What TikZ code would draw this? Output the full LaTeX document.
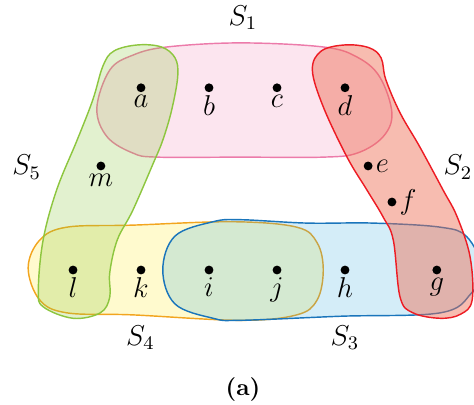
\documentclass[tikz,border=0pt]{standalone}
\usepackage{xcolor}
\usetikzlibrary{positioning}
\definecolor{pinkline}{HTML}{EC7BAA}
\definecolor{pinkfill}{HTML}{F27BAE}
\definecolor{redline}{HTML}{ED1C24}
\definecolor{redfill}{HTML}{EE6A50}
\definecolor{blueline}{HTML}{1A75BB}
\definecolor{bluefill}{HTML}{29A3DC}
\definecolor{yellowline}{HTML}{F2A51F}
\definecolor{yellowfill}{HTML}{FFEB3B}
\definecolor{greenline}{HTML}{8DC63F}
\definecolor{greenfill}{HTML}{8DC63F}
\tikzset{
  hedge/.style={line width=0.6pt},
  pinkset/.style={hedge, draw=pinkline, fill=pinkfill, fill opacity=0.2},
  redset/.style={hedge, draw=redline, fill=redfill, fill opacity=0.45},
  blueset/.style={hedge, draw=blueline, fill=bluefill, fill opacity=0.2},
  yellowset/.style={hedge, draw=yellowline, fill=yellowfill, fill opacity=0.25},
  greenset/.style={hedge, draw=greenline, fill=greenfill, fill opacity=0.25},
  vertex/.style={circle, fill=black, inner sep=0pt, minimum size=0.13cm},
  vlabel/.style={font=\large, inner sep=1pt},
  setname/.style={font=\large},
}

\begin{document}
\begin{tikzpicture}
  \useasboundingbox (-1.074,-1.971) rectangle (5.897,3.971);

  \draw[yellowset] plot[smooth cycle, tension=0.6] coordinates {
    (-0.66,0.03) (-0.49,0.44) (-0.09,0.63) (0.88,0.66) (2.35,0.71) (3.29,0.63)
    (3.59,0.40) (3.68,0) (3.59,-0.44) (3.29,-0.66) (2.46,-0.74) (0.88,-0.66)
    (-0.09,-0.63) (-0.49,-0.44)};
  \draw[blueset] plot[smooth cycle, tension=0.6] coordinates {
    (1.32,0) (1.5,0.5) (2.06,0.71) (2.46,0.74) (3.44,0.69) (4.41,0.69) (5.40,0.63)
    (5.79,0.49) (6.01,0.03) (5.85,-0.35) (5.40,-0.63) (3.93,-0.68) (2.46,-0.74)
    (2.06,-0.71) (1.5,-0.5)};
  \draw[pinkset] plot[smooth cycle, tension=0.6] coordinates {
    (0.35,2.38) (0.54,2.94) (0.88,3.16) (1.38,3.28) (2.46,3.34) (3.68,3.28)
    (4.18,3.13) (4.51,2.84) (4.69,2.31) (4.56,1.96) (4.18,1.72) (3.68,1.66)
    (2.46,1.66) (1.24,1.66) (0.88,1.72) (0.50,1.96)};
  \draw[greenset] plot[smooth cycle, tension=0.6] coordinates {
    (0.44,3.0) (0.6,3.22) (0.95,3.31) (1.3,3.28) (1.5,3.12) (1.54,2.85)
    (1.45,2.35) (1.32,1.91) (1.18,1.57) (0.88,0.88) (0.65,0.44) (0.54,-0.04)
    (0.54,-0.40) (0.40,-0.63) (0,-0.71) (-0.44,-0.54) (-0.51,-0.29) (-0.44,0.44)
    (-0.24,1.18) (0.06,1.91) (0.29,2.50)};
  \draw[redset] plot[smooth cycle, tension=0.6] coordinates {
    (3.52,2.94) (3.65,3.22) (4.0,3.31) (4.35,3.27) (4.53,3.12) (4.6,2.8)
    (4.81,2.31) (5.10,1.81) (5.44,1.18) (5.65,0.78) (5.84,0.19) (5.87,-0.44)
    (5.70,-0.65) (5.40,-0.71) (5.0,-0.63) (4.81,-0.40) (4.71,0.44) (4.56,0.78)
    (4.32,1.18) (4.03,1.66) (3.68,2.40)};

  \node[vertex, label={[vlabel]below:$a$}] (a) at (1,2.68) {};
  \node[vertex, label={[vlabel]below:$b$}] (b) at (2,2.68) {};
  \node[vertex, label={[vlabel]below:$c$}] (c) at (3,2.68) {};
  \node[vertex, label={[vlabel]below:$d$}] (d) at (4,2.68) {};
  \node[vertex, label={[vlabel]right:$e$}] (e) at (4.34,1.53) {};
  \node[vertex, label={[vlabel]right:$f$}] (f) at (4.69,1.0) {};
  \node[vertex, label={[vlabel]below:$g$}] (g) at (5.35,0) {};
  \node[vertex, label={[vlabel]below:$h$}] (h) at (4,0) {};
  \node[vertex, label={[vlabel]below:$j$}] (j) at (3,0) {};
  \node[vertex, label={[vlabel]below:$i$}] (i) at (2,0) {};
  \node[vertex, label={[vlabel]below:$k$}] (k) at (1,0) {};
  \node[vertex, label={[vlabel]below:$l$}] (l) at (0,0) {};
  \node[vertex, label={[vlabel]below:$m$}] (m) at (0.41,1.53) {};

  \node[setname] (s1) at (2.5,3.71) {$S_1$};
  \node[setname] (s2) at (5.66,1.51) {$S_2$};
  \node[setname] (s3) at (4.0,-1.0) {$S_3$};
  \node[setname] (s4) at (0.99,-1.0) {$S_4$};
  \node[setname] (s5) at (-0.68,1.51) {$S_5$};

  \node (caption) at (2.5,-1.76) {\textbf{(a)}};
\end{tikzpicture}
\end{document}
